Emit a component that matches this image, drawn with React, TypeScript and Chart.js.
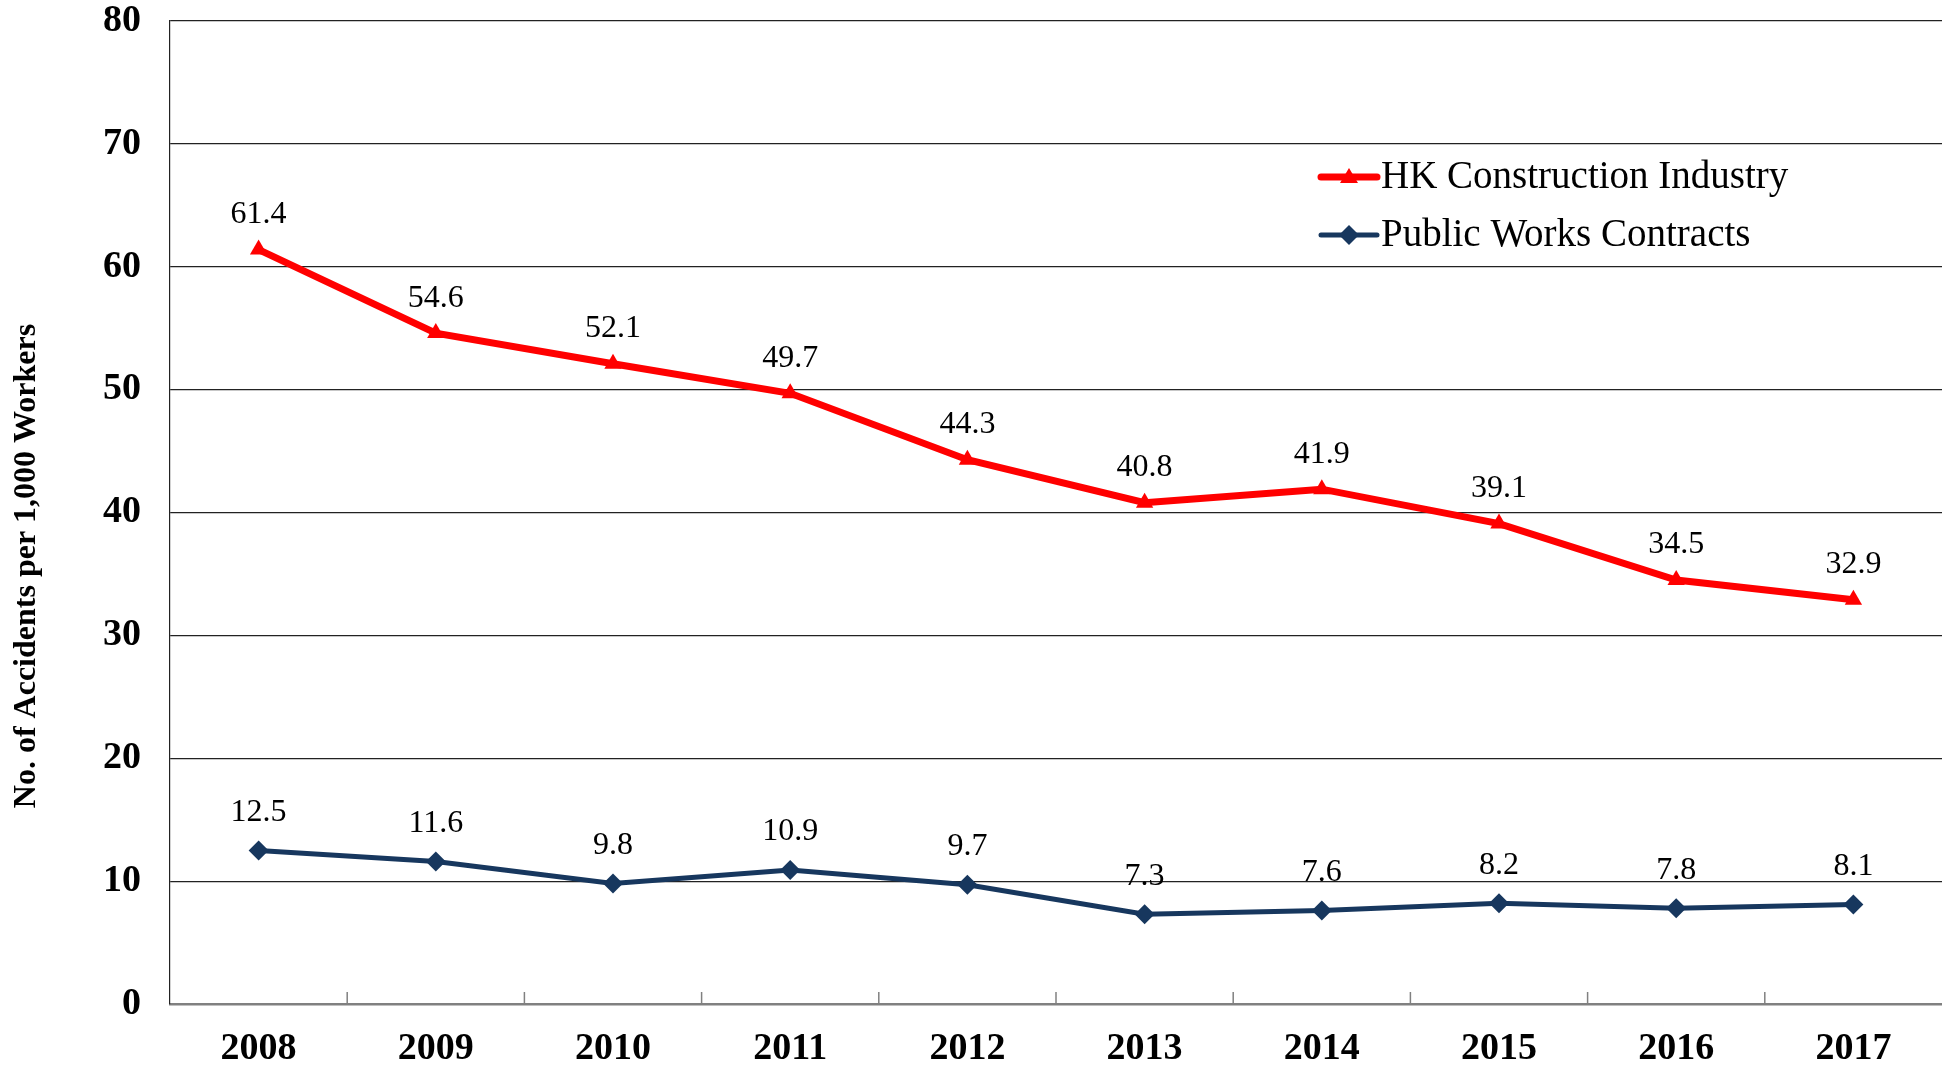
import React, { useEffect, useRef } from "react";
import { Chart, registerables } from "chart.js";

Chart.register(...registerables);

const years = ["2008", "2009", "2010", "2011", "2012", "2013", "2014", "2015", "2016", "2017"];
const hkConstruction = [61.4, 54.6, 52.1, 49.7, 44.3, 40.8, 41.9, 39.1, 34.5, 32.9];
const publicWorks = [12.5, 11.6, 9.8, 10.9, 9.7, 7.3, 7.6, 8.2, 7.8, 8.1];
const seriesNames = ["HK Construction Industry", "Public Works Contracts"];
const yTitle = "No. of Accidents per 1,000 Workers";

const FONT = '"Liberation Serif", "Times New Roman", serif';
const RED = "#FF0000";
const NAVY = "#17375E";

const labelPlugin = {
  id: "valueLabels",
  afterDatasetsDraw(chart: any) {
    const ctx = chart.ctx;
    ctx.save();
    ctx.font = `32px ${FONT}`;
    ctx.fillStyle = "#000";
    ctx.textAlign = "center";
    ctx.textBaseline = "middle";
    chart.data.datasets.forEach((ds: any, i: number) => {
      const meta = chart.getDatasetMeta(i);
      const off = i === 0 ? 35 : 38;
      meta.data.forEach((pt: any, j: number) => {
        ctx.fillText(String(ds.data[j]), pt.x, pt.y - off);
      });
    });
    ctx.restore();
  },
};

const axisTicksPlugin = {
  id: "innerTicks",
  afterDraw(chart: any) {
    const x = chart.scales.x;
    const ctx = chart.ctx;
    const bottom = chart.chartArea.bottom;
    ctx.save();
    ctx.strokeStyle = "#808080";
    ctx.lineWidth = 1.5;
    for (let i = 1; i < years.length; i++) {
      const px = (x.getPixelForValue(i - 1) + x.getPixelForValue(i)) / 2;
      ctx.beginPath();
      ctx.moveTo(px, bottom - 12);
      ctx.lineTo(px, bottom);
      ctx.stroke();
    }
    // y axis title
    ctx.fillStyle = "#000";
    ctx.font = `bold 32px ${FONT}`;
    ctx.textAlign = "center";
    ctx.textBaseline = "middle";
    ctx.translate(27, 566);
    ctx.rotate(-Math.PI / 2);
    ctx.fillText(yTitle, 0, 0);
    ctx.restore();
  },
};

const legendPlugin = {
  id: "innerLegend",
  afterDraw(chart: any) {
    const ctx = chart.ctx;
    const x0 = 1321;
    const x1 = 1377;
    const rows = [177, 235];
    ctx.save();
    chart.data.datasets.forEach((ds: any, i: number) => {
      const y = rows[i];
      ctx.strokeStyle = ds.borderColor;
      ctx.lineWidth = ds.borderWidth;
      ctx.lineCap = "round";
      ctx.beginPath();
      ctx.moveTo(x0, y);
      ctx.lineTo(x1, y);
      ctx.stroke();
      ctx.fillStyle = ds.borderColor;
      const cx = (x0 + x1) / 2;
      ctx.beginPath();
      if (i === 0) {
        ctx.moveTo(cx, y - 9);
        ctx.lineTo(cx + 9, y + 6);
        ctx.lineTo(cx - 9, y + 6);
      } else {
        ctx.moveTo(cx, y - 10);
        ctx.lineTo(cx + 10, y);
        ctx.lineTo(cx, y + 10);
        ctx.lineTo(cx - 10, y);
      }
      ctx.closePath();
      ctx.fill();
      ctx.fillStyle = "#000";
      ctx.font = `39px ${FONT}`;
      ctx.textAlign = "left";
      ctx.textBaseline = "middle";
      ctx.fillText(seriesNames[i], x1 + 4, y + 1);
    });
    ctx.restore();
  },
};

export default function App() {
  const ref = useRef<HTMLCanvasElement>(null);
  useEffect(() => {
    const chart = new Chart(ref.current as HTMLCanvasElement, {
      type: "line",
      data: {
        labels: years,
        datasets: [
          {
            label: seriesNames[0],
            data: hkConstruction,
            borderColor: RED,
            backgroundColor: RED,
            borderWidth: 7,
            pointStyle: "triangle",
            pointRadius: 10,
            pointBorderWidth: 0,
            pointBackgroundColor: RED,
            tension: 0,
          },
          {
            label: seriesNames[1],
            data: publicWorks,
            borderColor: NAVY,
            backgroundColor: NAVY,
            borderWidth: 5,
            pointStyle: "rectRot",
            pointRadius: 10,
            pointBorderWidth: 0,
            pointBackgroundColor: NAVY,
            tension: 0,
          },
        ],
      },
      options: {
        responsive: false,
        animation: false,
        layout: { autoPadding: false, padding: { top: 21, left: 0, right: 0, bottom: 0 } },
        plugins: {
          legend: { display: false },
          tooltip: { enabled: false },
          title: { display: false },
        },
        scales: {
          x: {
            offset: true,
            afterFit(scale: any) {
              scale.height = 61;
              scale.paddingLeft = 0;
              scale.paddingRight = 0;
            },
            grid: { display: false, drawTicks: false },
            border: { display: true, color: "#808080", width: 2.5 },
            ticks: {
              padding: 22,
              color: "#000",
              font: { family: FONT, size: 38, weight: "bold" },
              maxRotation: 0,
            },
          },
          y: {
            min: 0,
            max: 80,
            afterFit(scale: any) {
              scale.width = 170;
              scale.paddingTop = 0;
              scale.paddingBottom = 0;
            },
            ticks: {
              stepSize: 10,
              padding: 29,
              color: "#000",
              font: { family: FONT, size: 38, weight: "bold" },
            },
            grid: {
              drawTicks: false,
              color: (c: any) => (c.tick && c.tick.value === 0 ? "rgba(0,0,0,0)" : "#222"),
              lineWidth: 1.2,
            },
            border: { display: true, color: "#222", width: 1.2 },
          },
        },
      },
      plugins: [labelPlugin, axisTicksPlugin, legendPlugin],
    } as any);
    return () => chart.destroy();
  }, []);
  return (
    <div style={{ position: "fixed", left: 0, top: 0, width: 1942, height: 1065, background: "#fff" }}>
      <canvas ref={ref} width={1942} height={1065} style={{ display: "block" }} />
    </div>
  );
}
